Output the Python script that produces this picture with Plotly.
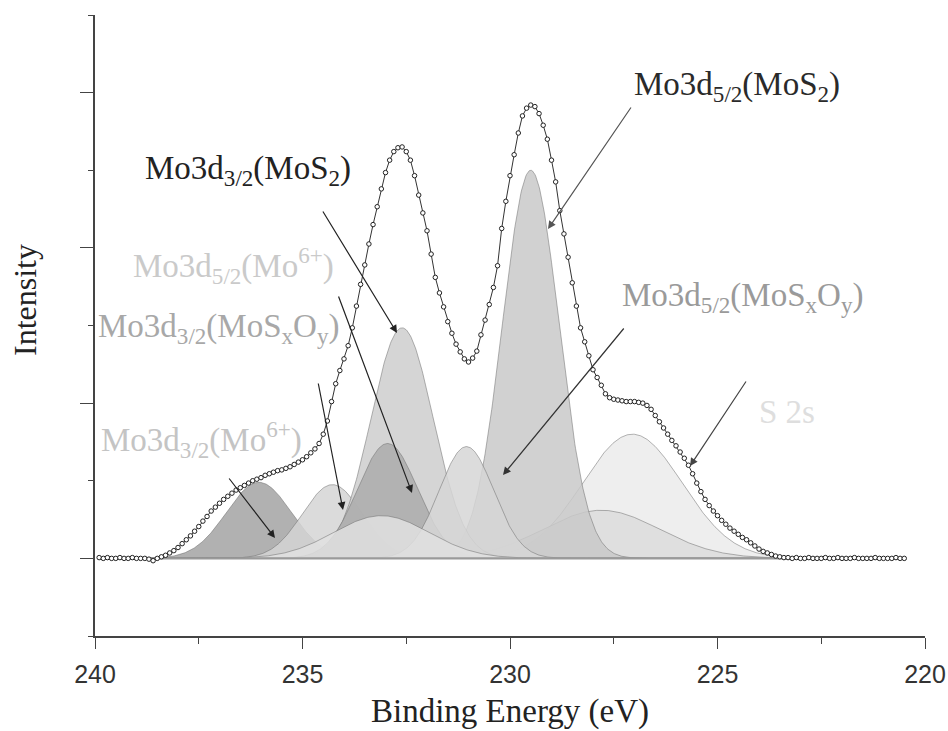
import numpy as np
import plotly.graph_objects as go

# ---------------- data ----------------
# measured Mo 3d / S 2s spectrum, 0.1 eV sampling from 239.9 eV down to 220.5 eV
energy_start = 239.9
energy_step = -0.1
intensity = [
    0.01, 0.00, 0.01, 0.00, 0.00, 0.01, 0.00, 0.00, 0.01, 0.00,   # 239.9-239.0
    0.00, 0.00, -0.01, -0.03, 0.00, 0.02, 0.04, 0.07, 0.10, 0.14,  # 238.9-238.0
    0.19, 0.24, 0.29, 0.35, 0.41, 0.48, 0.54, 0.61, 0.66, 0.71,   # 237.9-237.0
    0.76, 0.80, 0.84, 0.88, 0.91, 0.94, 0.97, 1.00, 1.02, 1.04,   # 236.9-236.0
    1.07, 1.09, 1.11, 1.13, 1.14, 1.16, 1.18, 1.21, 1.24, 1.27,   # 235.9-235.0
    1.31, 1.36, 1.41, 1.48, 1.60, 1.77, 2.02, 2.25, 2.42, 2.57,   # 234.9-234.0
    2.74, 2.97, 3.25, 3.53, 3.78, 4.05, 4.30, 4.53, 4.76, 4.97,   # 233.9-233.0
    5.13, 5.24, 5.29, 5.30, 5.24, 5.13, 4.93, 4.68, 4.45, 4.22,   # 232.9-232.0
    3.92, 3.62, 3.42, 3.24, 3.05, 2.90, 2.76, 2.66, 2.57, 2.53,   # 231.9-231.0
    2.58, 2.67, 2.88, 3.07, 3.27, 3.49, 3.77, 4.25, 4.60, 4.93,   # 230.9-230.0
    5.20, 5.48, 5.70, 5.80, 5.84, 5.82, 5.73, 5.58, 5.40, 5.13,   # 229.9-229.0
    4.85, 4.48, 4.18, 3.88, 3.55, 3.25, 2.97, 2.79, 2.61, 2.43,   # 228.9-228.0
    2.33, 2.23, 2.12, 2.07, 2.05, 2.04, 2.03, 2.02, 2.02, 2.02,   # 227.9-227.0
    2.01, 2.00, 1.97, 1.92, 1.84, 1.76, 1.68, 1.60, 1.52, 1.45,   # 226.9-226.0
    1.37, 1.29, 1.20, 1.09, 0.97, 0.86, 0.76, 0.68, 0.61, 0.55,   # 225.9-225.0
    0.49, 0.44, 0.39, 0.35, 0.31, 0.27, 0.24, 0.20, 0.16, 0.12,   # 224.9-224.0
    0.09, 0.07, 0.05, 0.03, 0.02, 0.01, 0.01, 0.00, 0.01, 0.00,   # 223.9-223.0
    0.00, 0.01, 0.00, 0.00, 0.00, 0.01, 0.00, 0.00, 0.01, 0.00,   # 222.9-222.0
    0.00, 0.00, 0.01, 0.00, 0.00, 0.00, 0.00, 0.01, 0.00, 0.00,   # 221.9-221.0
    0.00, 0.00, 0.01, 0.00, 0.00,                                 # 220.9-220.5
]
background_level = 0.0

# fitted components (drawing order): centre (eV), height, FWHM (eV)
peak_center = [227.05, 227.8, 229.5, 236.05, 234.28, 232.6, 232.95, 231.05, 233.1]
peak_height = [1.60, 0.62, 5.00, 0.98, 0.95, 2.97, 1.48, 1.44, 0.55]
peak_fwhm = [2.83, 3.30, 1.60, 1.84, 1.70, 1.77, 1.70, 1.55, 2.71]
peak_fill = ["#ebebeb", "#dcdcdc", "#c9c9c9", "#a3a3a3", "#d5d5d5",
             "#cecece", "#acacac", "#d6d6d6", "#e0e0e0"]

# labels
label_text = [
    "Mo3d<sub>5/2</sub>(MoS<sub>2</sub>)",
    "Mo3d<sub>3/2</sub>(MoS<sub>2</sub>)",
    "Mo3d<sub>5/2</sub>(Mo<sup>6+</sup>)",
    "Mo3d<sub>3/2</sub>(MoS<sub>x</sub>O<sub>y</sub>)",
    "Mo3d<sub>3/2</sub>(Mo<sup>6+</sup>)",
    "Mo3d<sub>5/2</sub>(MoS<sub>x</sub>O<sub>y</sub>)",
    "S 2s",
]
label_color = ["#2a2a2a", "#222222", "#cacaca", "#a8a8a8", "#c4c4c4", "#9a9a9a", "#dedede"]
x_ticks = [240, 235, 230, 225, 220]
x_title = "Binding Energy (eV)"
y_title = "Intensity"

# ---------------- layout helpers ----------------
W, H = 948, 731
ML, MR, MT, MB = 95, 23, 15, 95
PW, PH = W - ML - MR, H - MT - MB
X0, X1 = 240, 220
Y0, Y1 = -1, 7
SERIF = "Liberation Serif, Times New Roman, serif"


def px_to_paper(px, py):
    return (px - ML) / PW, (H - MB - py) / PH


def px_to_data(px, py):
    return X0 + (px - ML) / PW * (X1 - X0), Y0 + (H - MB - py) / PH * (Y1 - Y0)


energy = energy_start + energy_step * np.arange(len(intensity))
grid = np.linspace(energy[0], energy[-1], 971)

fig = go.Figure()

for c, h, w, col in zip(peak_center, peak_height, peak_fwhm, peak_fill):
    sig = w / 2.3548
    yy = h * np.exp(-((grid - c) ** 2) / (2 * sig ** 2))
    r, g, b = int(col[1:3], 16), int(col[3:5], 16), int(col[5:7], 16)
    fig.add_trace(go.Scatter(
        x=grid, y=yy, mode="lines", fill="tozeroy",
        fillcolor=f"rgba({r},{g},{b},0.85)",
        line=dict(color="rgba(110,110,110,0.65)", width=0.8),
        hoverinfo="skip", showlegend=False))

# background line
fig.add_trace(go.Scatter(
    x=[energy[0], energy[-1]], y=[background_level, background_level],
    mode="lines", line=dict(color="#9a9a9a", width=2.2),
    hoverinfo="skip", showlegend=False))

# measured data
fig.add_trace(go.Scatter(
    x=energy, y=intensity, mode="lines+markers",
    line=dict(color="#333333", width=1),
    marker=dict(symbol="circle", size=4.5, color="white",
                line=dict(color="#222222", width=1)),
    showlegend=False))

annotations = []
# label positions in pixels (left edge, vertical centre)
label_pos = [(632, 87), (143, 170), (131, 265), (96, 328), (99, 440), (620, 297), (757, 412)]
for t, col, (px, py) in zip(label_text, label_color, label_pos):
    xp, yp = px_to_paper(px, py)
    annotations.append(dict(
        x=xp, y=yp, xref="paper", yref="paper", text=t, showarrow=False,
        xanchor="left", yanchor="middle",
        font=dict(family=SERIF, size=33, color=col)))

# arrows: (tail px, tail py, tip px, tip py)
arrows = [
    (632, 106, 548, 229, "#555555"),
    (322, 210, 397, 333, "#222222"),
    (338, 295, 412, 493, "#222222"),
    (318, 382, 343, 510, "#222222"),
    (228, 477, 275, 538, "#222222"),
    (625, 327, 503, 475, "#333333"),
    (747, 380, 690, 466, "#444444"),
]
for tx, ty, hx, hy, col in arrows:
    dx, dy = px_to_data(hx, hy)
    annotations.append(dict(
        x=dx, y=dy, xref="x", yref="y", text="", showarrow=True,
        ax=tx - hx, ay=ty - hy, arrowhead=2, arrowsize=1.3, arrowwidth=1.2,
        arrowcolor=col, standoff=0, startstandoff=0))

# y-axis title as annotation
yt_x, yt_y = px_to_paper(25, 300)
annotations.append(dict(
    x=yt_x, y=yt_y, xref="paper", yref="paper", text=y_title, showarrow=False,
    textangle=-90, xanchor="center", yanchor="middle",
    font=dict(family=SERIF, size=32, color="#222222")))

fig.update_layout(
    width=W, height=H,
    margin=dict(l=ML, r=MR, t=MT, b=MB, pad=0, autoexpand=False),
    paper_bgcolor="white", plot_bgcolor="white",
    annotations=annotations,
    xaxis=dict(
        range=[X0, X1], showgrid=False, zeroline=False, automargin=False,
        showline=True, linecolor="#444444", linewidth=1.5,
        ticks="outside", ticklen=11, tickwidth=1.3, tickcolor="#444444",
        tickvals=x_ticks, ticktext=[str(v) for v in x_ticks],
        ticklabelstandoff=4,
        minor=dict(dtick=2.5, tick0=220, ticks="outside", ticklen=6, tickwidth=1.2, tickcolor="#444444"),
        tickfont=dict(family="Liberation Sans, Arial, sans-serif", size=25, color="#333333"),
        title=dict(text=x_title, standoff=12,
                   font=dict(family=SERIF, size=33, color="#222222")),
    ),
    yaxis=dict(
        range=[Y0, Y1], showgrid=False, zeroline=False, automargin=False,
        showline=True, linecolor="#444444", linewidth=1.5,
        ticks="outside", ticklen=13, tickwidth=1.3, tickcolor="#444444",
        tick0=0, dtick=2, showticklabels=False,
        minor=dict(dtick=1, tick0=0, ticks="outside", ticklen=5, tickwidth=1.2, tickcolor="#444444"),
    ),
)

fig.write_html("out.html")
